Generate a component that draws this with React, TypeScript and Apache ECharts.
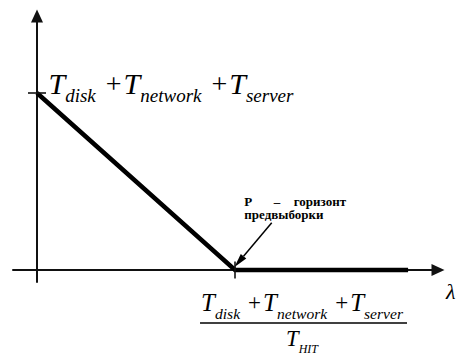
import { useEffect, useRef } from 'react';
import * as echarts from 'echarts';

// Curve: falls from T_sum at λ = 0 to zero at λ = T_sum / T_HIT, then stays 0
const pointX = [0, 10, 18.74];
const pointY = [10, 0, 0];
const xRange = [-1.212, 20.25];
const yRange = [-0.678, 14.35];
const subParts = ['disk', 'network', 'server'];
const hitSub = 'HIT';
const axisName = 'λ';
const noteLine1 = ['P', '–', 'горизонт'];
const noteLine2 = 'предвыборки';

const SERIF = 'Liberation Serif';
const CENTRAL = 0.3375;

type Tok = { t: string; size: number; italic: boolean; drop: number; padL: number; padR: number };

let measureCtx: CanvasRenderingContext2D | null = null;
function fontOf(tok: Tok) {
  return `${tok.italic ? 'italic ' : ''}${tok.size}px "${SERIF}"`;
}
function measure(tok: Tok) {
  if (!measureCtx) measureCtx = document.createElement('canvas').getContext('2d');
  measureCtx!.font = fontOf(tok);
  return measureCtx!.measureText(tok.t).width;
}

function formulaTokens(subs: string[], tSize: number, subSize: number, drop: number, plusSize: number, plusPad: number[]): Tok[] {
  const toks: Tok[] = [];
  subs.forEach((s, i) => {
    toks.push({ t: 'T', size: tSize, italic: true, drop: 0, padL: 0, padR: 0 });
    toks.push({ t: s, size: subSize, italic: true, drop, padL: 0, padR: 0 });
    if (i < subs.length - 1) toks.push({ t: '+', size: plusSize, italic: false, drop: 0, padL: plusPad[0], padR: plusPad[1] });
  });
  return toks;
}

function layout(toks: Tok[], x0: number, baseline: number, center: boolean) {
  const widths = toks.map(measure);
  const total = toks.reduce((a, t, i) => a + t.padL + widths[i] + t.padR, 0);
  let x = center ? x0 - total / 2 : x0;
  return toks.map((tok, i) => {
    x += tok.padL;
    const el = {
      type: 'text',
      x,
      y: baseline + tok.drop - CENTRAL * tok.size,
      z: 10,
      style: { text: tok.t, font: fontOf(tok), lineHeight: tok.size, fill: '#000', align: 'left', verticalAlign: 'middle' },
    };
    x += widths[i] + tok.padR;
    return el;
  });
}

export default function App() {
  const ref = useRef<HTMLDivElement>(null);
  useEffect(() => {
    if (!ref.current) return;
    const chart = echarts.init(ref.current, undefined, { renderer: 'svg' });
    const axisLine = {
      onZero: true,
      symbol: ['none', 'triangle'],
      symbolSize: [12, 13],
      lineStyle: { color: '#111', width: 2 },
    };
    chart.setOption({
      animation: false,
      backgroundColor: '#fff',
      grid: { left: 13, right: 18, top: 16, bottom: 73 },
      xAxis: {
        type: 'value', min: xRange[0], max: xRange[1],
        axisLine, axisTick: { show: false }, axisLabel: { show: false }, splitLine: { show: false },
      },
      yAxis: {
        type: 'value', min: yRange[0], max: yRange[1],
        axisLine, axisTick: { show: false }, axisLabel: { show: false }, splitLine: { show: false },
      },
      series: [
        {
          type: 'line',
          data: pointX.map((x, i) => [x, pointY[i]]),
          symbol: 'none',
          lineStyle: { color: '#000', width: 4.5, join: 'miter' },
          z: 5,
        },
        {
          type: 'scatter',
          data: [
            { value: [pointX[0], pointY[0]], symbolSize: [18, 2] },
            { value: [pointX[1], pointY[1]], symbolSize: [2, 17] },
          ],
          symbol: 'rect',
          itemStyle: { color: '#111' },
          z: 6,
        },
      ],
    });

    const toPx = (v: number[]) => chart.convertToPixel({ gridIndex: 0 }, v) as number[];
    const [tx, ty] = toPx([pointX[0], pointY[0]]);
    const [bx, by] = toPx([pointX[1], pointY[1]]);
    const [ex, ey] = toPx([xRange[1], 0]);

    // arrow of the note
    const sx = bx + 36.7, sy = by - 47.3;
    const tipX = bx - 0.5, tipY = by - 3;
    const dx = sx - tipX, dy = sy - tipY;
    const len = Math.hypot(dx, dy);
    const ux = dx / len, uy = dy / len;
    const nx = -uy, ny = ux;
    const hl = 14, hw = 3.6;
    const baseX = tipX + ux * hl, baseY = tipY + uy * hl;

    const topEls = layout(formulaTokens(subParts, 30, 19, 8.4, 28, [10, 2]), tx + 11.5, ty + 0.3, false);
    const numEls = layout(formulaTokens(subParts, 25, 15.6, 7.6, 23, [8, 2]), bx + 67, by + 40.7, true);
    const denEls = layout(formulaTokens([hitSub], 22.6, 12, 6.5, 20, [0, 0]), bx + 67, by + 76.2, true);

    const noteFont = `bold 13px "${SERIF}"`;
    const note = (text: string, x: number, y: number, align: string) => ({
      type: 'text', x, y, z: 10,
      style: { text, font: noteFont, lineHeight: 13, fill: '#000', align, verticalAlign: 'middle' },
    });

    chart.setOption({
      graphic: [
        ...topEls,
        ...numEls,
        { type: 'line', shape: { x1: bx - 35, y1: by + 53, x2: bx + 172, y2: by + 53 }, style: { stroke: '#000', lineWidth: 1.5 }, z: 10 },
        ...denEls,
        note(noteLine1[0], bx + 9.3, by - 68.9, 'left'),
        note(noteLine1[1], bx + 42, by - 68.9, 'center'),
        note(noteLine1[2], bx + 111, by - 68.9, 'right'),
        note(noteLine2, bx + 9.3, by - 55.3, 'left'),
        { type: 'line', shape: { x1: sx, y1: sy, x2: baseX, y2: baseY }, style: { stroke: '#000', lineWidth: 1.5 }, z: 10 },
        {
          type: 'polygon',
          shape: { points: [[tipX, tipY], [baseX + nx * hw, baseY + ny * hw], [baseX - nx * hw, baseY - ny * hw]] },
          style: { fill: '#000' }, z: 10,
        },
        { type: 'text', x: ex + 8, y: ey + 22, z: 10, style: { text: axisName, font: `italic 22px "${SERIF}"`, fill: '#000', align: 'left', verticalAlign: 'middle' } },
      ],
    });
    return () => chart.dispose();
  }, []);
  return <div ref={ref} style={{ position: 'fixed', left: 0, top: 0, width: 456, height: 355 }} />;
}
